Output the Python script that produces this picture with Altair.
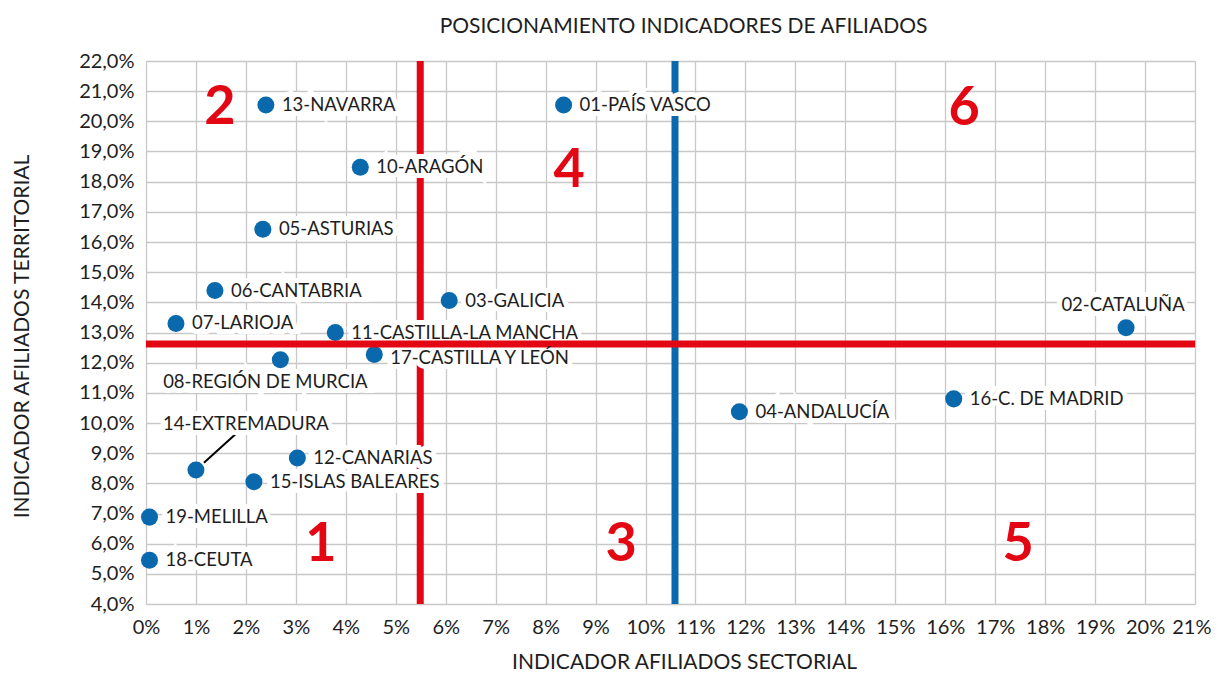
import altair as alt
import pandas as pd

# ---- data ----
names = ["01-PAÍS VASCO", "02-CATALUÑA", "03-GALICIA", "04-ANDALUCÍA", "05-ASTURIAS",
         "06-CANTABRIA", "07-LARIOJA", "08-REGIÓN DE MURCIA", "10-ARAGÓN",
         "11-CASTILLA-LA MANCHA", "12-CANARIAS", "13-NAVARRA", "14-EXTREMADURA",
         "15-ISLAS BALEARES", "16-C. DE MADRID", "17-CASTILLA Y LEÓN", "18-CEUTA", "19-MELILLA"]
sectorial = [8.36, 19.62, 6.07, 11.88, 2.34, 1.38, 0.60, 2.69, 4.29,
             3.79, 3.03, 2.40, 1.00, 2.16, 16.17, 4.57, 0.07, 0.07]
territorial = [20.54, 13.16, 14.06, 10.37, 16.42, 14.39, 13.30, 12.10, 18.48,
               13.00, 8.84, 20.54, 8.44, 8.05, 10.80, 12.27, 5.45, 6.88]

# threshold lines
red_vertical = [5.49]
blue_vertical = [10.59]
red_horizontal = [12.62]

# quadrant numbers
quad_labels = ["1", "2", "3", "4", "5", "6"]
quad_x = [3.50, 1.48, 9.51, 8.47, 17.46, 16.38]
quad_y = [5.96, 20.44, 5.96, 18.36, 5.96, 20.41]

# leader line for 14-EXTREMADURA
leader_x = [1.16]
leader_y = [8.68]
leader_x2 = [1.84]
leader_y2 = [9.70]

x_ticks = list(range(0, 22))
y_ticks = list(range(4, 23))

BLUE = "#0a69ad"
RED = "#e30613"
FONT = "Lato"
TXT = "#1e1e1e"

df = pd.DataFrame({"name": names, "sectorial": sectorial, "territorial": territorial})
qdf = pd.DataFrame({"q": quad_labels, "x": quad_x, "y": quad_y})
ldf = pd.DataFrame({"x": leader_x, "y": leader_y, "x2": leader_x2, "y2": leader_y2})

xscale = alt.Scale(domain=[0, 21], nice=False, zero=False)
yscale = alt.Scale(domain=[4, 22], nice=False, zero=False)

last_x = "datum.value == %d" % x_ticks[-1]
xaxis = alt.Axis(
    values=x_ticks, labelExpr="format(datum.value, 'd') + '%'",
    labelOverlap=False, labelFlush=False,
    labelAlign={"condition": {"test": last_x, "value": "right"}, "value": "center"},
    labelOffset={"condition": {"test": last_x, "value": 16}, "value": 0},
    title="INDICADOR AFILIADOS SECTORIAL", titleX=538, titleY=58,
    titleBaseline="middle", titleAnchor="start", titleAlign="center", labelPadding=13)
yaxis = alt.Axis(
    values=y_ticks, labelExpr="replace(format(datum.value, '.1f'), '.', ',') + '%'",
    labelOverlap=False, labelFlush=False,
    title="INDICADOR AFILIADOS TERRITORIAL", titleX=-124, titleY=275,
    titleBaseline="middle", titleAlign="center", titleAngle=-90, labelPadding=12)


def xenc(field):
    return alt.X(field, type="quantitative", scale=xscale, axis=xaxis)


def yenc(field):
    return alt.Y(field, type="quantitative", scale=yscale, axis=yaxis)


base = alt.Chart(df)

rv = alt.Chart(pd.DataFrame({"v": red_vertical})).mark_rule(color=RED, strokeWidth=7).encode(
    x=xenc("v"))
bv = alt.Chart(pd.DataFrame({"v": blue_vertical})).mark_rule(color=BLUE, strokeWidth=7).encode(
    x=xenc("v"))
rh = alt.Chart(pd.DataFrame({"v": red_horizontal})).mark_rule(color=RED, strokeWidth=7).encode(
    y=yenc("v"))

leader = alt.Chart(ldf).mark_rule(color="black", strokeWidth=2).encode(
    x=xenc("x"), y=yenc("y"), x2="x2:Q", y2="y2:Q")

points = base.mark_circle(size=290, color=BLUE, opacity=1).encode(
    x=xenc("sectorial"), y=yenc("territorial"))

special = ["02-CATALUÑA", "08-REGIÓN DE MURCIA", "14-EXTREMADURA", "17-CASTILLA Y LEÓN"]
right_filter = alt.FieldOneOfPredicate(field="name", oneOf=[n for n in names if n not in special])


def label_layer(filt, halo, **kw):
    props = dict(font=FONT, fontSize=18.5, baseline="middle")
    props.update(kw)
    if halo:
        props.update(stroke="white", strokeWidth=10, strokeJoin="miter", color="white")
    else:
        props.update(color=TXT)
    return base.transform_filter(filt).mark_text(**props).encode(
        x=xenc("sectorial"), y=yenc("territorial"), text="name:N")


label_specs = [
    (right_filter, dict(align="left", dx=16)),
    (alt.FieldEqualPredicate(field="name", equal="17-CASTILLA Y LEÓN"), dict(align="left", dx=16, dy=3)),
    (alt.FieldEqualPredicate(field="name", equal="02-CATALUÑA"), dict(align="center", dx=-3, dy=-23)),
    (alt.FieldEqualPredicate(field="name", equal="08-REGIÓN DE MURCIA"), dict(align="center", dx=-15, dy=22)),
    (alt.FieldEqualPredicate(field="name", equal="14-EXTREMADURA"), dict(align="center", dx=50, dy=-46)),
]

halos = [label_layer(f, True, **k) for f, k in label_specs]
texts = [label_layer(f, False, **k) for f, k in label_specs]

quads = alt.Chart(qdf).mark_text(font=FONT, fontSize=54, fontWeight="bold", color=RED,
                                 baseline="middle", align="center").encode(
    x=xenc("x"), y=yenc("y"), text="q:N")

chart = alt.layer(rv, bv, leader, points, *halos, rh, *texts, quads).properties(
    width=1049, height=543,
    autosize=alt.AutoSizeParams(type="none"),
    padding={"left": 138, "top": 53, "right": 16, "bottom": 69},
    title=alt.TitleParams("POSICIONAMIENTO INDICADORES DE AFILIADOS", font=FONT, fontSize=21,
                          fontWeight="normal", color=TXT, anchor="middle", dx=13, offset=14),
).configure_view(stroke=None).configure_axis(
    labelFont=FONT, labelFontSize=20, labelColor=TXT,
    titleFont=FONT, titleFontSize=21, titleFontWeight="normal", titleColor=TXT,
    grid=True, gridColor="#c8c8c8", gridWidth=1.3, domain=False, ticks=False,
    labelOverlap=False, labelFlush=False,
)

chart.save("out.html", embed_options={"renderer": "svg", "actions": False})
